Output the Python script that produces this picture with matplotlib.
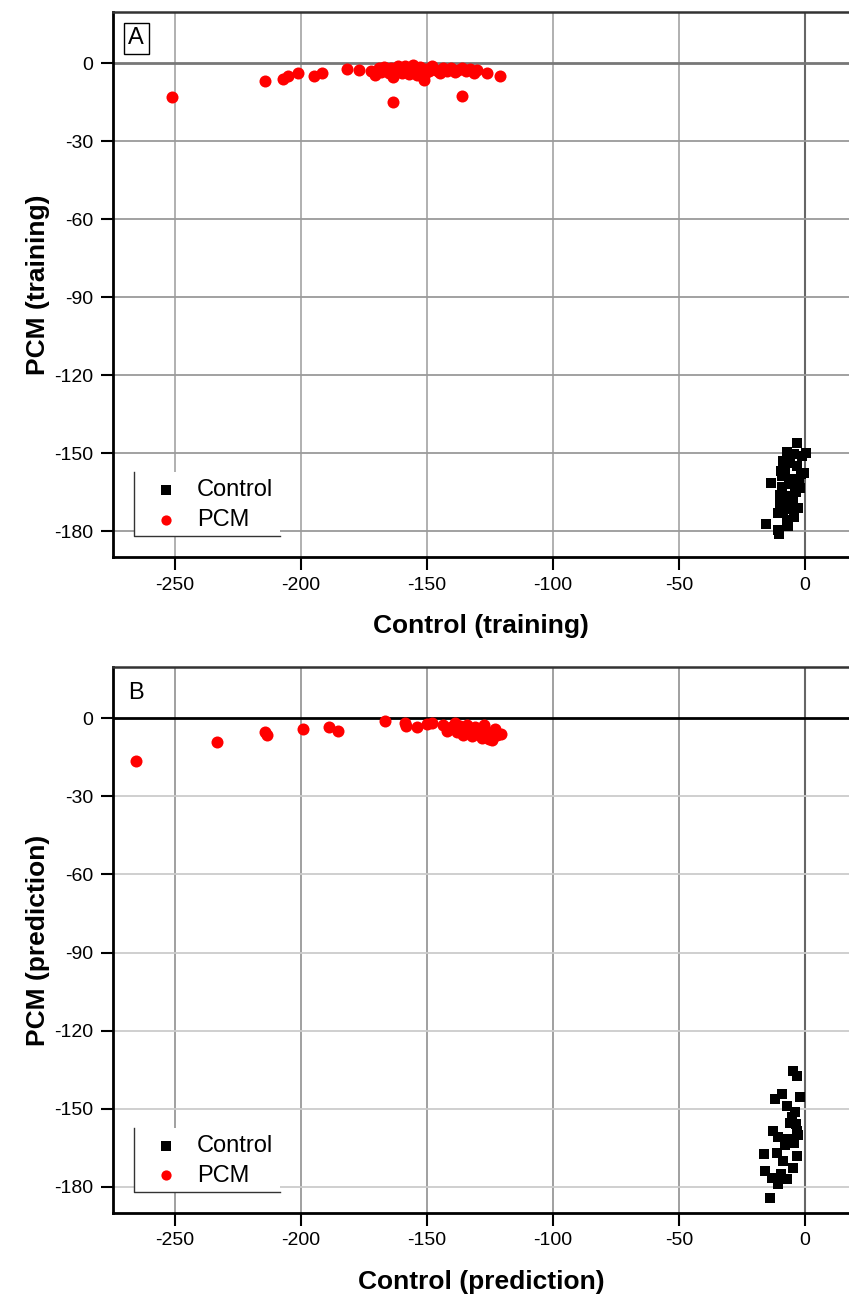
import numpy as np
import matplotlib
matplotlib.use("Agg")
import matplotlib.pyplot as plt
from matplotlib.patches import Rectangle

plt.rcParams["font.family"] = ["Liberation Sans", "DejaVu Sans"]

# ----- DATA -----
# Panel A: training
pcm_train_x = [-251.1, -214.3, -207.0, -205.3, -201.3, -194.8, -191.5, -181.6, -176.9,
               -172.0, -170.5, -169.0, -168.2, -167.0, -166.0, -165.0, -164.2, -163.4,
               -162.5, -161.5, -160.5, -159.8, -158.6, -157.5, -156.8, -155.5, -154.6,
               -153.8, -152.7, -151.0, -150.2, -149.0, -148.0, -146.5, -145.0, -143.6,
               -142.0, -140.5, -139.0, -137.6, -136.0, -134.5, -133.0, -131.5, -130.2,
               -126.3, -120.8, -163.4, -136.0, -151.0, -157.0, -145.5]
pcm_train_y = [-13.0, -6.9, -6.3, -5.0, -3.7, -5.0, -3.7, -2.3, -2.8,
               -3.0, -4.5, -2.0, -3.5, -1.5, -2.8, -4.0, -1.8, -5.5,
               -3.0, -1.2, -2.5, -4.0, -1.0, -2.2, -3.5, -0.8, -2.8,
               -4.5, -1.5, -6.5, -2.2, -3.0, -1.0, -2.5, -3.8, -1.8,
               -3.0, -2.0, -3.5, -2.6, -1.8, -3.2, -2.4, -4.0, -2.8,
               -3.7, -5.0, -14.9, -12.7, -4.8, -4.2, -3.0]
ctrl_train_x = [-3.3, -7.0, -4.5, -1.0, 0.6, -13.6, -15.5, -10.8, -10.3, -4.2, -7.3,
                -8.5, -6.0, -3.0, -1.5, -9.5, -7.8, -5.0, -2.2, -0.5, -9.0, -6.5,
                -4.0, -1.8, -10.0, -8.0, -5.5, -3.5, -9.8, -7.0, -4.8, -8.8, -6.2,
                -2.8, -10.5, -6.8, -5.8, -9.2]
ctrl_train_y = [-146.0, -149.5, -150.5, -151.0, -150.0, -161.7, -177.4, -179.6, -181.0, -174.7, -175.8,
                -153.0, -152.0, -155.0, -158.0, -157.0, -156.0, -160.0, -161.0, -157.5, -163.0, -162.0,
                -164.5, -163.5, -166.0, -167.0, -166.5, -165.0, -170.0, -169.0, -168.0, -172.5, -171.5,
                -171.0, -173.0, -178.0, -154.0, -159.0]

# Panel B: prediction
pcm_pred_x = [-265.5, -233.1, -214.3, -213.6, -199.1, -188.8, -185.2, -166.7, -158.7,
              -158.1, -154.1, -150.1, -148.1, -143.7, -142.0, -140.5, -139.0, -138.0,
              -136.5, -135.5, -134.0, -133.0, -132.0, -131.0, -130.0, -129.0, -127.5,
              -126.5, -125.5, -124.3, -123.0, -122.0, -120.4, -137.0, -141.0, -128.0]
pcm_pred_y = [-16.5, -9.1, -5.5, -6.5, -4.3, -3.5, -5.0, -1.2, -1.7,
              -3.0, -3.6, -2.3, -1.7, -2.5, -5.0, -3.5, -2.0, -5.5,
              -4.0, -6.5, -2.5, -5.0, -7.0, -3.5, -6.0, -4.5, -2.5,
              -5.5, -8.0, -8.5, -4.0, -6.5, -6.2, -3.0, -4.2, -7.5]
ctrl_pred_x = [-4.6, -3.3, -11.9, -9.2, -2.0, -7.3, -4.0, -12.8, -6.0, -3.3, -6.6,
               -10.6, -16.3, -11.2, -3.3, -8.6, -4.6, -15.9, -13.2, -10.6, -7.3, -13.9,
               -5.0, -3.5, -8.0, -2.8, -4.2, -9.5]
ctrl_pred_y = [-135.4, -137.3, -146.3, -144.3, -145.6, -148.8, -151.4, -158.5, -155.3, -158.5, -161.7,
               -161.0, -167.4, -166.8, -168.1, -170.0, -172.6, -173.8, -176.4, -179.0, -177.0, -184.1,
               -153.0, -156.0, -164.0, -160.0, -163.0, -175.0]

x_ticks = [-250, -200, -150, -100, -50, 0]
y_ticks = [0, -30, -60, -90, -120, -150, -180]

# ----- FIGURE -----
fig = plt.figure(figsize=(8.49, 12.97), dpi=100)
ax_a = fig.add_axes([0.133, 0.5705, 0.867, 0.4202])
ax_b = fig.add_axes([0.133, 0.0648, 0.867, 0.4209])


def style_panel(ax, letter, boxed, xlabel, ylabel, hgrid, vgrid, zero_h):
    ax.set_xlim(-274.6, 17.5)
    ax.set_ylim(-190, 19.6)
    ax.set_xticks(x_ticks)
    ax.set_yticks(y_ticks)
    ax.set_xticklabels([str(t) for t in x_ticks])
    ax.set_yticklabels([str(t) for t in y_ticks])
    ax.tick_params(direction="out", length=9, width=1.5, labelsize=14, pad=5)

    for t in x_ticks[:-1]:
        ax.axvline(t, color=vgrid, lw=1.3, zorder=0)
    ax.axvline(0, color="#666666", lw=1.5, zorder=0)
    for t in y_ticks[1:]:
        ax.axhline(t, color=hgrid, lw=1.3, zorder=0)
    ax.axhline(0, color=zero_h, lw=2.0, zorder=0)

    ax.spines["left"].set_linewidth(2.0)
    ax.spines["bottom"].set_linewidth(2.0)
    ax.spines["top"].set_linewidth(1.8)
    ax.spines["top"].set_color("#333333")
    ax.spines["right"].set_visible(False)

    ax.set_xlabel(xlabel, fontsize=19, fontweight="bold", labelpad=15)
    ax.set_ylabel(ylabel, fontsize=19, fontweight="bold", labelpad=3)

    if boxed:
        ax.text(0.021, 0.972, letter, transform=ax.transAxes, fontsize=17, va="top", ha="left",
                bbox=dict(boxstyle="square,pad=0.2", fc="white", ec="black", lw=1.0))
    else:
        ax.text(0.021, 0.972, letter, transform=ax.transAxes, fontsize=17, va="top", ha="left")

    # legend: white panel with only a left and bottom border
    ax.add_patch(Rectangle((0.0285, 0.0385), 0.1985, 0.118, transform=ax.transAxes,
                           fc="white", ec="none", zorder=1))
    ax.plot([0.0285, 0.0285, 0.227], [0.156, 0.0385, 0.0385], transform=ax.transAxes,
            color="#333333", lw=1.0, zorder=2)
    ax.legend(loc="upper left", bbox_to_anchor=(0.056, 0.143), frameon=False,
              fontsize=17, markerscale=0.85, handlelength=1.0, handletextpad=0.8,
              labelspacing=0.33, borderpad=0.0, borderaxespad=0.0)


ax_a.scatter(ctrl_train_x, ctrl_train_y, marker="s", s=60, c="black", linewidths=0, label="Control", zorder=3)
ax_a.scatter(pcm_train_x, pcm_train_y, marker="o", s=75, c="red", linewidths=0, label="PCM", zorder=3)
style_panel(ax_a, "A", True, "Control (training)", "PCM (training)", "#9a9a9a", "#aaaaaa", "#777777")

ax_b.scatter(ctrl_pred_x, ctrl_pred_y, marker="s", s=60, c="black", linewidths=0, label="Control", zorder=3)
ax_b.scatter(pcm_pred_x, pcm_pred_y, marker="o", s=75, c="red", linewidths=0, label="PCM", zorder=3)
style_panel(ax_b, "B", False, "Control (prediction)", "PCM (prediction)", "#cccccc", "#999999", "black")

fig.savefig("out.png", dpi=100)
